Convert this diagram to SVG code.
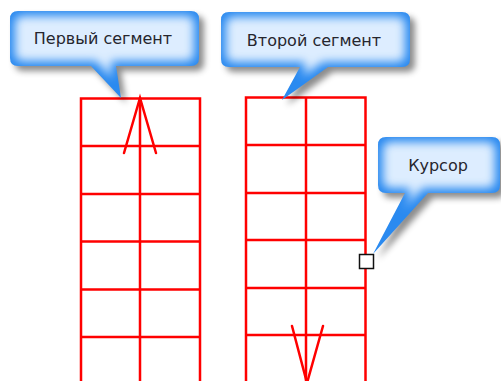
<svg xmlns="http://www.w3.org/2000/svg" width="501" height="381" viewBox="0 0 501 381">
<style>
.grid{stroke:#ff0000;stroke-width:2.5;fill:none;stroke-linecap:square}
.arrow{stroke:#ff0000;stroke-width:2.5;fill:none;stroke-linecap:round}
.bubble{fill:#2a8af0;filter:url(#callout)}
.label{font-family:"DejaVu Sans","Liberation Sans",sans-serif;font-size:16px;fill:#26262e;text-anchor:middle}
</style>
<defs>
<filter id="callout" x="-15%" y="-20%" width="140%" height="160%" color-interpolation-filters="sRGB">
<feGaussianBlur in="SourceAlpha" stdDeviation="3" result="sb"/>
<feOffset in="sb" dx="5" dy="5" result="so"/>
<feFlood flood-color="#000" flood-opacity="0.45"/>
<feComposite in2="so" operator="in" result="shadow"/>
<feMorphology in="SourceAlpha" operator="erode" radius="5" result="er"/>
<feGaussianBlur in="er" stdDeviation="5" result="erb"/>
<feFlood flood-color="#e6f2ff" flood-opacity="0.95"/>
<feComposite in2="erb" operator="in" result="glow"/>
<feComposite in="glow" in2="SourceAlpha" operator="in" result="glow2"/>
<feMerge><feMergeNode in="shadow"/><feMergeNode in="SourceGraphic"/><feMergeNode in="glow2"/></feMerge>
</filter>
</defs>
<rect width="501" height="381" fill="#fff"/>
<g id="segment1">
<path class="grid" d="M81,98.5V390M140,98.5V390M200,98.5V390M81,98.5H200M81,146H200M81,194H200M81,241.5H200M81,289.5H200M81,337H200"/>
</g>
<g id="segment2">
<path class="grid" d="M246,97.5V390M306,97.5V390M365.5,97.5V390M246,97.5H365.5M246,145H365.5M246,193H365.5M246,240H365.5M246,288H365.5M246,335H365.5"/>
</g>
<g id="connectors">
<path class="arrow" d="M124,153L140,98L156,153"/>
<path class="arrow" d="M292,326L307,383L323,326"/>
</g>
<g id="cursor">
<rect x="359.5" y="254.5" width="14" height="14" fill="#fff" stroke="#111" stroke-width="1.5"/>
</g>
<g id="callout-first">
<path class="bubble" d="M18,11H191Q199,11 199,19V58Q199,66 191,66H116L121,98L91,66H18Q10,66 10,58V19Q10,11 18,11Z"/>
<text class="label" x="103" y="44">Первый сегмент</text>
</g>
<g id="callout-second">
<path class="bubble" d="M229,12H402Q410,12 410,20V59Q410,67 402,67H328L282,100L300,67H229Q221,67 221,59V20Q221,12 229,12Z"/>
<text class="label" x="314" y="46">Второй сегмент</text>
</g>
<g id="callout-cursor">
<path class="bubble" d="M386,137H492Q500,137 500,145V185Q500,193 492,193H428L373,254L405,193H386Q378,193 378,185V145Q378,137 386,137Z"/>
<text class="label" x="438" y="171">Курсор</text>
</g>
</svg>
